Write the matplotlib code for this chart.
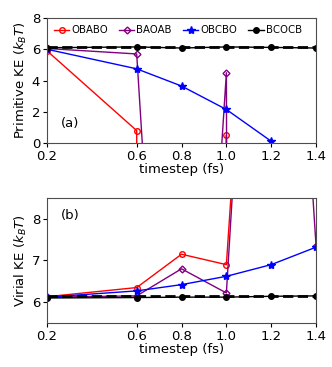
import numpy as np
import matplotlib
matplotlib.use("Agg")
import matplotlib.pyplot as plt

timestep = [0.2, 0.6, 0.8, 1.0, 1.2, 1.4]
xticks = [0.2, 0.6, 0.8, 1.0, 1.2, 1.4]

# primitive kinetic energy (k_B T); off-scale values diverge
prim_obabo = [5.9, 0.8, -1000.0, 0.5, -1000.0, np.nan]
prim_baoab = [6.05, 5.7, -40.0, 4.5, -1000.0, np.nan]
prim_obcbo = [6.0, 4.75, 3.65, 2.15, 0.12, np.nan]
prim_bcocb = [6.1, 6.15, 6.08, 6.15, 6.12, 6.08]

# virial kinetic energy (k_B T)
vir_obabo = [6.13, 6.35, 7.15, 6.9, 23.0, np.nan]
vir_baoab = [6.12, 6.15, 6.8, 6.22, 24.0, 7.35]
vir_obcbo = [6.12, 6.27, 6.42, 6.62, 6.9, 7.32]
vir_bcocb = [6.1, 6.11, 6.12, 6.12, 6.14, 6.15]

reference_ke = 6.15

styles = {
    "OBABO": dict(color="red", marker="o", mfc="none", ms=4),
    "BAOAB": dict(color="purple", marker="D", mfc="none", ms=3.5),
    "OBCBO": dict(color="blue", marker="*", ms=6),
    "BCOCB": dict(color="black", marker="o", ms=4),
}

fig = plt.figure(figsize=(3.32, 3.67), dpi=100)
ax1 = fig.add_axes([0.1416, 0.610, 0.8104, 0.341])
ax2 = fig.add_axes([0.1416, 0.120, 0.8104, 0.3405])

top = {"OBABO": prim_obabo, "BAOAB": prim_baoab, "OBCBO": prim_obcbo, "BCOCB": prim_bcocb}
bot = {"OBABO": vir_obabo, "BAOAB": vir_baoab, "OBCBO": vir_obcbo, "BCOCB": vir_bcocb}

for name, vals in top.items():
    ax1.plot(timestep, vals, lw=1, label=name, **styles[name])
ax1.axhline(reference_ke, color="black", ls="--", lw=2)
for name, vals in bot.items():
    ax2.plot(timestep, vals, lw=1, label=name, **styles[name])
ax2.axhline(reference_ke, color="black", ls="--", lw=2)

ax1.set_ylim(0, 8)
ax1.set_yticks([0, 2, 4, 6, 8])
ax1.set_ylabel("Primitive KE ($k_BT$)", fontsize=9.5, labelpad=2)
ax1.text(0.05, 0.13, "(a)", transform=ax1.transAxes, fontsize=9.5)
ax1.legend(loc="upper left", ncol=4, frameon=False, fontsize=7.3,
           handlelength=1.5, handletextpad=0.2, columnspacing=1.1,
           bbox_to_anchor=(0.0, 1.0), borderaxespad=0.3)

ax2.set_ylim(5.5, 8.5)
ax2.set_yticks([6, 7, 8])
ax2.set_ylabel("Virial KE ($k_BT$)", fontsize=9.5, labelpad=2)
ax2.text(0.05, 0.83, "(b)", transform=ax2.transAxes, fontsize=9.5)

for ax in (ax1, ax2):
    ax.set_xlim(0.2, 1.4)
    ax.set_xticks(xticks)
    ax.set_xlabel("timestep (fs)", fontsize=9.5, labelpad=0)
    ax.tick_params(labelsize=9.5, length=3, pad=2)
    for sp in ax.spines.values():
        sp.set_color("0.3")

fig.savefig("out.png", dpi=100)
